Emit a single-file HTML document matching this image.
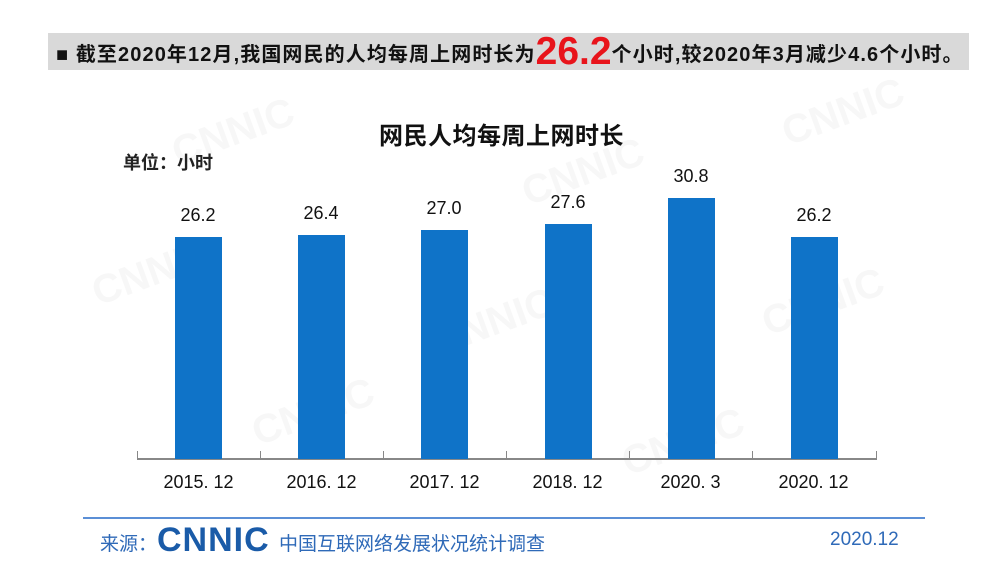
<!DOCTYPE html>
<html><head><meta charset="utf-8"><style>
body{margin:0;width:1000px;height:562px;background:#fff;position:relative;overflow:hidden;font-family:"Liberation Sans","Noto Sans CJK SC",sans-serif}
.a{position:absolute;white-space:nowrap}
.bar{position:absolute;background:#0f73c8;width:47px}
.v{position:absolute;width:100px;text-align:center;font-size:18px;color:#111}
.x{position:absolute;width:123px;text-align:center;font-size:18px;color:#111;top:472px}
.wm{position:absolute;color:#f7f7f7;font-size:40px;font-weight:bold;transform:rotate(-20deg)}
</style></head><body>
<div class="wm" style="left:170px;top:110px">CNNIC</div>
<div class="wm" style="left:520px;top:150px">CNNIC</div>
<div class="wm" style="left:780px;top:90px">CNNIC</div>
<div class="wm" style="left:90px;top:250px">CNNIC</div>
<div class="wm" style="left:430px;top:300px">CNNIC</div>
<div class="wm" style="left:760px;top:280px">CNNIC</div>
<div class="wm" style="left:250px;top:390px">CNNIC</div>
<div class="wm" style="left:620px;top:420px">CNNIC</div>
<div class="a" style="left:48px;top:33px;width:921px;height:37px;background:#d9d9d9"></div>
<div class="a" style="left:56px;top:35px;font-size:20px;font-weight:bold;color:#111;line-height:34px;letter-spacing:1.1px">■ 截至2020年12月,我国网民的人均每周上网时长为<span style="color:#e8141b;font-size:39px;vertical-align:-3px;letter-spacing:0">26.2</span>个小时,较2020年3月减少4.6个小时。</div>
<div class="a" style="left:379px;top:116px;font-size:24px;font-weight:bold;color:#111;letter-spacing:0.5px">网民人均每周上网时长</div>
<div class="a" style="left:123px;top:149px;font-size:18px;font-weight:bold;color:#222">单位：小时</div>
<div class="a" style="left:137px;top:458px;width:740px;height:2px;background:#888"></div>
<div class="a" style="left:137px;top:451px;width:1px;height:8px;background:#888"></div>
<div class="a" style="left:260px;top:451px;width:1px;height:8px;background:#888"></div>
<div class="a" style="left:383px;top:451px;width:1px;height:8px;background:#888"></div>
<div class="a" style="left:506px;top:451px;width:1px;height:8px;background:#888"></div>
<div class="a" style="left:629px;top:451px;width:1px;height:8px;background:#888"></div>
<div class="a" style="left:752px;top:451px;width:1px;height:8px;background:#888"></div>
<div class="a" style="left:876px;top:451px;width:1px;height:8px;background:#888"></div>
<div class="bar" style="left:175px;top:237px;height:222px"></div>
<div class="bar" style="left:298px;top:235px;height:224px"></div>
<div class="bar" style="left:421px;top:230px;height:229px"></div>
<div class="bar" style="left:545px;top:224px;height:235px"></div>
<div class="bar" style="left:668px;top:198px;height:261px"></div>
<div class="bar" style="left:791px;top:237px;height:222px"></div>
<div class="v" style="left:148px;top:205px">26.2</div>
<div class="v" style="left:271px;top:203px">26.4</div>
<div class="v" style="left:394px;top:198px">27.0</div>
<div class="v" style="left:518px;top:192px">27.6</div>
<div class="v" style="left:641px;top:166px">30.8</div>
<div class="v" style="left:764px;top:205px">26.2</div>
<div class="x" style="left:137px">2015. 12</div>
<div class="x" style="left:260px">2016. 12</div>
<div class="x" style="left:383px">2017. 12</div>
<div class="x" style="left:506px">2018. 12</div>
<div class="x" style="left:629px">2020. 3</div>
<div class="x" style="left:752px">2020. 12</div>
<div class="a" style="left:83px;top:517px;width:842px;height:2px;background:#5b8fd6"></div>
<div class="a" style="left:100px;top:529px;font-size:19px;color:#2f6ab8">来源：</div>
<div class="a" style="left:157px;top:521px;font-size:34px;font-weight:bold;color:#1a5ba8;letter-spacing:1px">CNNIC</div>
<div class="a" style="left:279px;top:529px;font-size:19px;color:#2f6ab8">中国互联网络发展状况统计调查</div>
<div class="a" style="left:830px;top:529px;font-size:19px;color:#2f6ab8">2020.12</div>
</body></html>
